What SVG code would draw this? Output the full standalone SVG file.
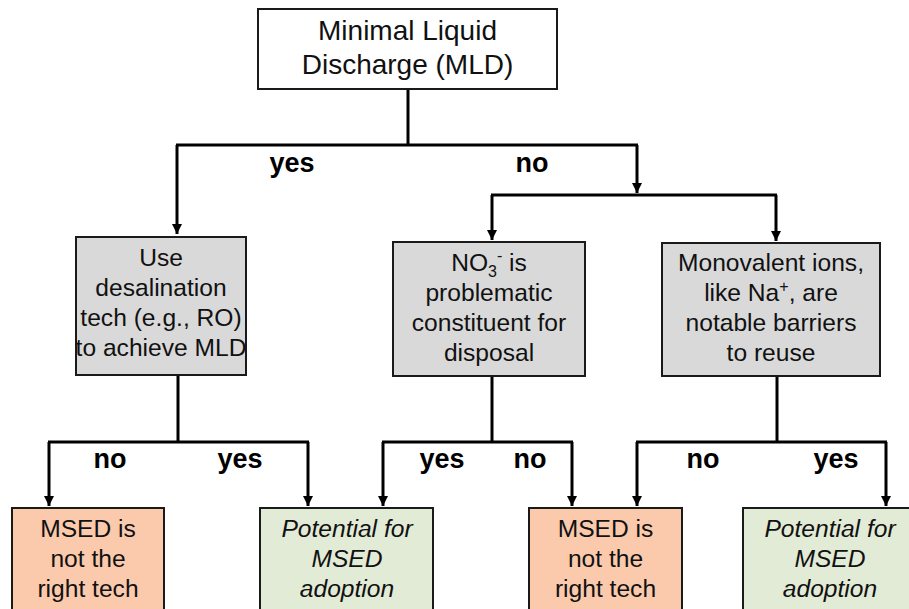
<svg xmlns="http://www.w3.org/2000/svg" width="909" height="609" viewBox="0 0 909 609">
<defs>
<marker id="arr" markerUnits="userSpaceOnUse" markerWidth="12" markerHeight="12" refX="10" refY="5" orient="auto">
<path d="M0,0 L10,5 L0,10 z" fill="#000"/>
</marker>
<style>
.box{stroke:#1a1a1a;stroke-width:2}
.white{fill:#fff}
.gray{fill:#d9d9d9}
.orange{fill:#fbcaad}
.green{fill:#e2ebd6}
.t{font-family:"Liberation Sans",Arial,sans-serif;font-size:24.6px;fill:#111;text-anchor:middle}
.top{font-size:28px}
.it{font-style:italic}
.lbl{font-family:"Liberation Sans",Arial,sans-serif;font-size:27px;font-weight:bold;fill:#000;text-anchor:middle}
.c{fill:none;stroke:#000;stroke-width:3}
.a{marker-end:url(#arr)}
</style>
</defs>
<g id="connectors">
<path class="c" d="M408,89 V145 M176,145 H638"/>
<path class="c a" d="M177,145 V234"/>
<path class="c a" d="M637,145 V193"/>
<path class="c" d="M491,195 H777"/>
<path class="c a" d="M492,195 V240"/>
<path class="c a" d="M776,195 V241"/>
<path class="c" d="M178,375 V442 M48,442 H309"/>
<path class="c a" d="M49,442 V506"/>
<path class="c a" d="M308,442 V506"/>
<path class="c" d="M492,376 V442 M382,442 H573"/>
<path class="c a" d="M383,442 V506"/>
<path class="c a" d="M572,442 V506"/>
<path class="c" d="M777,376 V442 M636,442 H887"/>
<path class="c a" d="M637,442 V506"/>
<path class="c a" d="M886,442 V506"/>
</g>
<g id="labels">
<text class="lbl" x="292" y="172">yes</text>
<text class="lbl" x="532" y="172">no</text>
<text class="lbl" x="110" y="468">no</text>
<text class="lbl" x="240" y="468">yes</text>
<text class="lbl" x="442" y="468">yes</text>
<text class="lbl" x="530" y="468">no</text>
<text class="lbl" x="703" y="468">no</text>
<text class="lbl" x="836" y="468">yes</text>
</g>
<g id="mld">
<rect class="box white" x="258" y="9" width="299" height="80"/>
<text class="t top" x="407.5" y="40">Minimal Liquid</text>
<text class="t top" x="407.5" y="74">Discharge (MLD)</text>
</g>
<g id="desal">
<rect class="box gray" x="76" y="237" width="170" height="138"/>
<text class="t" x="161" y="266">Use</text>
<text class="t" x="161" y="296">desalination</text>
<text class="t" x="161" y="326">tech (e.g., RO)</text>
<text class="t" x="161" y="356">to achieve MLD</text>
</g>
<g id="no3">
<rect class="box gray" x="393" y="242" width="192" height="134"/>
<text class="t" x="489" y="271">NO<tspan font-size="16" dy="6">3</tspan><tspan font-size="16" dy="-16">-</tspan><tspan dy="10"> is</tspan></text>
<text class="t" x="489" y="301">problematic</text>
<text class="t" x="489" y="331">constituent for</text>
<text class="t" x="489" y="361">disposal</text>
</g>
<g id="mono">
<rect class="box gray" x="662" y="243" width="218" height="133"/>
<text class="t" x="771" y="271">Monovalent ions,</text>
<text class="t" x="771" y="301">like Na<tspan font-size="16" dy="-9">+</tspan><tspan dy="9">, are</tspan></text>
<text class="t" x="771" y="331">notable barriers</text>
<text class="t" x="771" y="361">to reuse</text>
</g>
<g id="notright1">
<rect class="box orange" x="12" y="508" width="152" height="120"/>
<text class="t" x="88" y="537">MSED is</text>
<text class="t" x="88" y="567">not the</text>
<text class="t" x="88" y="597">right tech</text>
</g>
<g id="potential1">
<rect class="box green" x="260" y="508" width="173" height="120"/>
<text class="t it" x="347" y="537">Potential for</text>
<text class="t it" x="347" y="567">MSED</text>
<text class="t it" x="347" y="597">adoption</text>
</g>
<g id="notright2">
<rect class="box orange" x="529" y="508" width="153" height="120"/>
<text class="t" x="605.5" y="537">MSED is</text>
<text class="t" x="605.5" y="567">not the</text>
<text class="t" x="605.5" y="597">right tech</text>
</g>
<g id="potential2">
<rect class="box green" x="743" y="508" width="200" height="120"/>
<text class="t it" x="830" y="537">Potential for</text>
<text class="t it" x="830" y="567">MSED</text>
<text class="t it" x="830" y="597">adoption</text>
</g>
</svg>
